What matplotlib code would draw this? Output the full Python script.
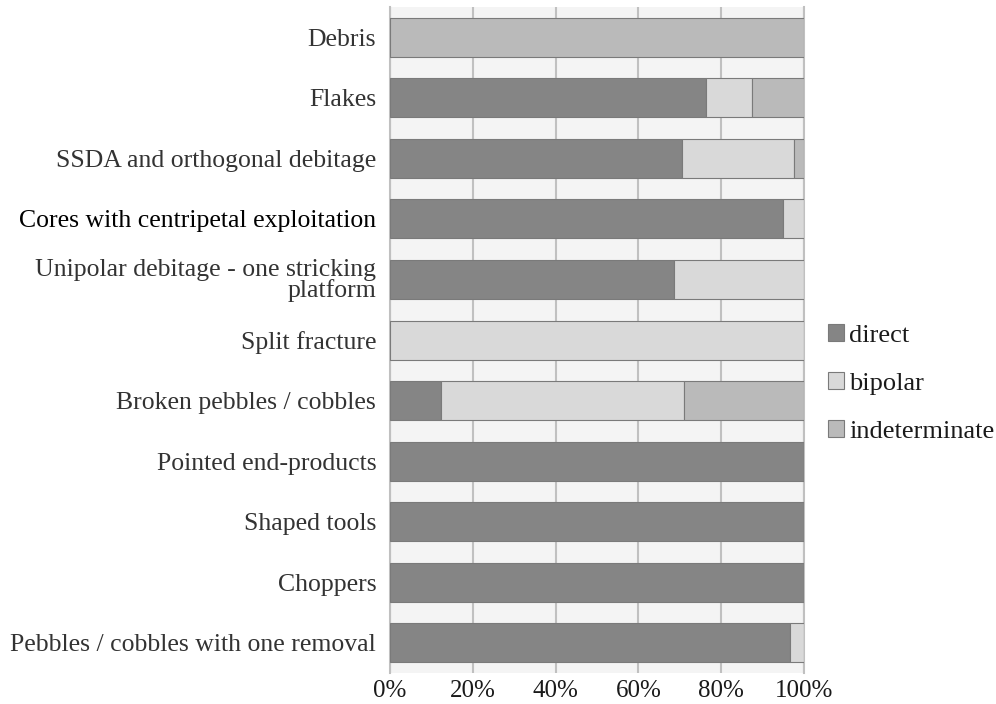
import matplotlib.pyplot as plt
import numpy as np

categories = ['Pebbles / cobbles with one removal', 'Choppers', 'Shaped tools',
              'Pointed end-products', 'Broken pebbles / cobbles', 'Split fracture',
              'Unipolar debitage - one stricking\nplatform',
              'Cores with centripetal exploitation',
              'SSDA and orthogonal debitage', 'Flakes', 'Debris']
direct = [96.5, 100, 100, 100, 12.4, 0, 68.5, 94.9, 70.4, 76.3, 0]
bipolar = [3.5, 0, 0, 0, 58.7, 100, 31.5, 5.1, 27.1, 11.1, 0]
indeterminate = [0, 0, 0, 0, 28.9, 0, 0, 0, 2.5, 12.6, 100]

plt.rcParams['font.family'] = ['Liberation Serif', 'DejaVu Serif']

fig = plt.figure(figsize=(9.96, 7.04), dpi=100)
ax = fig.add_axes([0.3916, 0.044, 0.4157, 0.946])
ax.set_facecolor('#f4f4f4')

y = np.arange(len(categories))
h = 0.645
d = np.array(direct)
b = np.array(bipolar)
ind = np.array(indeterminate)
ax.barh(y, d, h, color='#858585', edgecolor='#7a7a7a', linewidth=0.8, label='direct', zorder=3)
ax.barh(y, b, h, left=d, color='#d9d9d9', edgecolor='#7a7a7a', linewidth=0.8, label='bipolar', zorder=3)
ax.barh(y, ind, h, left=d + b, color='#bababa', edgecolor='#7a7a7a', linewidth=0.8, label='indeterminate', zorder=3)

ax.set_xlim(0, 100)
ax.set_ylim(-0.5, len(categories) - 0.5)
ax.set_xticks(np.arange(0, 101, 20))
ax.set_xticklabels([str(v) + '%' for v in range(0, 101, 20)])
ax.set_yticks(y)
ax.set_yticklabels(categories, linespacing=0.85)
ax.grid(axis='x', color='#c0c0c0', linewidth=1.5, zorder=0)
ax.tick_params(axis='y', length=0, labelsize=18.5, colors='#333333', pad=10)
ax.tick_params(axis='x', length=0, labelsize=18, pad=5, colors='#1a1a1a')
for lbl in ax.get_yticklabels():
    if lbl.get_text().startswith('Cores'):
        lbl.set_color('black')
for s in ['top', 'bottom']:
    ax.spines[s].set_visible(False)
for s in ['left', 'right']:
    ax.spines[s].set_color('#c0c0c0')
    ax.spines[s].set_linewidth(1.5)

handles, labels = ax.get_legend_handles_labels()
ax.legend(handles, labels, loc='center left', bbox_to_anchor=(1.012, 0.435),
          frameon=False, fontsize=19, handlelength=0.62, handleheight=0.62,
          handletextpad=0.2, labelspacing=0.95, labelcolor='#1a1a1a',
          borderaxespad=0.3)

fig.savefig('out.png', dpi=100)
